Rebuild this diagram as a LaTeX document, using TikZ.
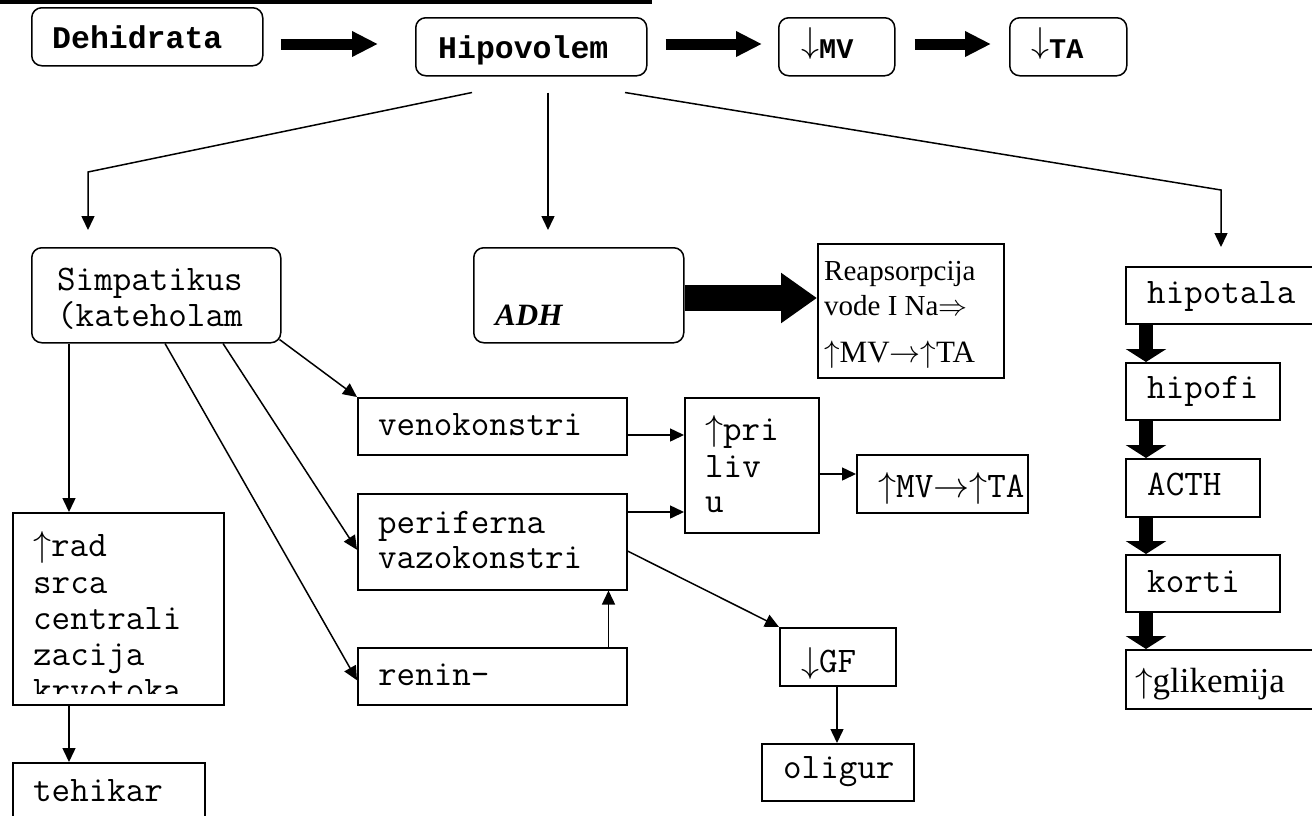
\documentclass[tikz,border=0pt]{standalone}
\usepackage{fix-cm}
\usepackage{fontspec}
\setmainfont{Liberation Serif}
\newfontfamily\bmono{Liberation Mono}
\newcommand\bigdn{{\fontsize{36}{36}\selectfont\raisebox{6pt}{$\downarrow$}}}
\usetikzlibrary{arrows.meta,calc}
\begin{document}
\begin{tikzpicture}[x=1pt,y=-1pt,
  box/.style={draw, line width=1.5pt, inner sep=0pt, anchor=north west},
  rbox/.style={box, rounded corners=10pt},
  conn/.style={line width=1.5pt, -{Triangle[length=14pt,width=13pt]}},
  bigtop/.style={line width=11pt, -{Triangle[length=26pt,width=24pt]}},
  bigadh/.style={line width=26pt, -{Triangle[length=36pt,width=48pt]}},
  bigcol/.style={line width=14pt, -{Triangle[length=13pt,width=40pt]}},
  mtxt/.style={inner sep=0pt, anchor=base west, font=\ttfamily\fontsize{36}{36}\selectfont},
  btxt/.style={inner sep=0pt, anchor=base west, font=\bmono\bfseries\fontsize{31.5}{36}\selectfont},
  bstxt/.style={inner sep=0pt, anchor=base west, font=\bmono\bfseries\fontsize{28.5}{34}\selectfont},
  stxt/.style={inner sep=0pt, anchor=base west, font=\fontsize{29}{34}\selectfont},
  sbtxt/.style={inner sep=0pt, anchor=base west, font=\fontsize{31}{36}\selectfont}
]
\useasboundingbox (0,0) rectangle (1312,815);
\fill (0,0) rectangle (652,3.5);

% top row
\node[rbox, minimum width=231pt, minimum height=58pt] (dehid) at (31,7) {};
\node[btxt] (dehidT) at (52,48) {Dehidrata};
\node[rbox, minimum width=231pt, minimum height=58pt] (hipo) at (415,17) {};
\node[btxt] (hipoT) at (438,58) {Hipovolem};
\node[rbox, minimum width=116pt, minimum height=58pt] (mv) at (778,17) {};
\node[bstxt] (mvT) at (801,58) {\bigdn MV};
\node[rbox, minimum width=117pt, minimum height=58pt] (ta) at (1009,17) {};
\node[bstxt] (taT) at (1031,58) {\bigdn TA};

\draw[bigtop] ($(dehid.north east)+(17,37)$) -- ($(hipo.north west)+(-37,27)$);
\draw[bigtop] ($(hipo.north east)+(18,27)$) -- ($(mv.north west)+(-16,27)$);
\draw[bigtop] ($(mv.north east)+(19,27)$) -- ($(ta.north west)+(-18,27)$);

% second row
\node[rbox, minimum width=249pt, minimum height=95pt] (simp) at (31,247) {};
\node[mtxt] (simpT1) at (57,290) {Simpatikus};
\node[mtxt] (simpT2) at (57,326) {(kateholam};
\node[rbox, minimum width=210pt, minimum height=95pt] (adh) at (473,247) {};
\node[inner sep=0pt, anchor=base west, font=\bfseries\itshape\fontsize{31}{36}\selectfont] (adhT) at (495,325) {ADH};
\node[box, minimum width=186pt, minimum height=134pt] (reap) at (817,243) {};
\node[stxt] (reapT1) at (824,280) {Reapsorpcija};
\node[stxt] (reapT2) at (824,315) {vode I Na$\Rightarrow$};
\node[sbtxt] (reapT3) at (824,362) {$\uparrow$MV$\rightarrow\uparrow$TA};

% right column
\node[box, minimum width=200pt, minimum height=57pt] (hipot) at (1125,266) {};
\node[mtxt] (hipotT) at (1147,303) {hipotala};
\node[box, minimum width=154pt, minimum height=57pt] (hipof) at (1125,362) {};
\node[mtxt] (hipofT) at (1147,398) {hipofi};
\node[box, minimum width=134pt, minimum height=58pt] (acth) at (1125,458) {};
\node[mtxt] (acthT) at (1147,495) {ACTH};
\node[box, minimum width=154pt, minimum height=57pt] (korti) at (1125,554) {};
\node[mtxt] (kortiT) at (1147,592) {korti};
\node[box, minimum width=200pt, minimum height=59pt] (glik) at (1125,649) {};
\node[inner sep=0pt, anchor=base west, font=\fontsize{35}{36}\selectfont] (glikT) at (1135,692) {$\uparrow$glikemija};

\draw[conn] ($(hipo.south west)+(57,16)$) -- (88,172) -- ($(simp.north west)+(57,-17)$);
\draw[conn] ($(hipo.south west)+(133,16)$) -- ($(adh.north west)+(75,-17)$);
\draw[conn] ($(hipo.south west)+(210,16)$) -- (1221,190) -- ($(hipot.north west)+(96,-19)$);
\draw[bigadh] ($(adh.north east)+(0,51)$) -- ($(reap.north west)+(0,55)$);

% middle
\node[box, minimum width=269pt, minimum height=57pt] (veno) at (357,397) {};
\node[mtxt] (venoT) at (378,435) {venokonstri};
\node[box, minimum width=134pt, minimum height=135pt] (pril) at (684,397) {};
\node[mtxt] (prilT1) at (705,440) {$\uparrow$pri};
\node[mtxt] (prilT2) at (705,477) {liv};
\node[mtxt] (prilT3) at (705,512) {u};
\node[box, minimum width=171pt, minimum height=58pt] (mvta) at (856,454) {};
\node[mtxt] (mvtaT) at (878,497) {$\uparrow$MV$\rightarrow\uparrow$TA};
\node[box, minimum width=269pt, minimum height=96pt] (perif) at (357,493) {};
\node[mtxt] (perifT1) at (378,533) {periferna};
\node[mtxt] (perifT2) at (378,568) {vazokonstri};
\node[box, minimum width=269pt, minimum height=57pt] (renin) at (357,647) {};
\node[mtxt] (reninT) at (378,685) {renin-};
\node[box, minimum width=116pt, minimum height=58pt] (gf) at (779,627) {};
\node[mtxt] (gfT) at (801,672) {$\downarrow$GF};
\node[box, minimum width=152pt, minimum height=57pt] (olig) at (761,743) {};
\node[mtxt] (oligT) at (783,778) {oligur};

% left column
\node[box, minimum width=211pt, minimum height=192pt] (rad) at (12,512) {};
\node[mtxt] (radT1) at (33,556) {$\uparrow$rad};
\node[mtxt] (radT2) at (33,593) {srca};
\node[mtxt] (radT3) at (33,629) {centrali};
\node[mtxt] (radT4) at (33,665) {zacija};
\begin{scope}
\clip (12,512) rectangle (223,693);
\node[mtxt] (radT5) at (33,701) {krvotoka};
\end{scope}
\node[box, minimum width=192pt, minimum height=80pt] (teh) at (12,762) {};
\node[mtxt] (tehT) at (33,801) {tehikar};

\draw[bigcol] ($(hipot.south west)+(21,0)$) -- ($(hipof.north west)+(21,0)$);
\draw[bigcol] ($(hipof.south west)+(21,0)$) -- ($(acth.north west)+(21,0)$);
\draw[bigcol] ($(acth.south west)+(21,0)$) -- ($(korti.north west)+(21,0)$);
\draw[bigcol] ($(korti.south west)+(21,0)$) -- ($(glik.north west)+(21,0)$);

% connectors from Simpatikus
\draw[conn] ($(simp.south west)+(38,0)$) -- ($(rad.north west)+(57,0)$);
\draw[conn] ($(simp.south west)+(134,0)$) -- ($(renin.west)+(0,4)$);
\draw[conn] ($(simp.south west)+(192,0)$) -- ($(perif.west)+(0,8)$);
\draw[conn] ($(simp.south east)+(-2,-4)$) -- (veno.north west);
\draw[conn] ($(rad.south west)+(57,0)$) -- ($(teh.north west)+(57,0)$);

% middle connectors
\draw[conn] ($(veno.north east)+(0,38)$) -- ($(pril.north west)+(0,38)$);
\draw[conn] ($(perif.north east)+(0,19)$) -- ($(pril.north west)+(0,115)$);
\draw[conn] ($(pril.north east)+(0,77)$) -- ($(mvta.north west)+(0,20)$);
\draw[conn] ($(perif.north east)+(0,58)$) -- (gf.north west);
\draw[conn] ($(renin.north east)+(-19,0)$) -- ($(perif.south east)+(-19,0)$);
\draw[conn] ($(gf.south west)+(58,0)$) -- ($(olig.north west)+(76,0)$);
\end{tikzpicture}
\end{document}
